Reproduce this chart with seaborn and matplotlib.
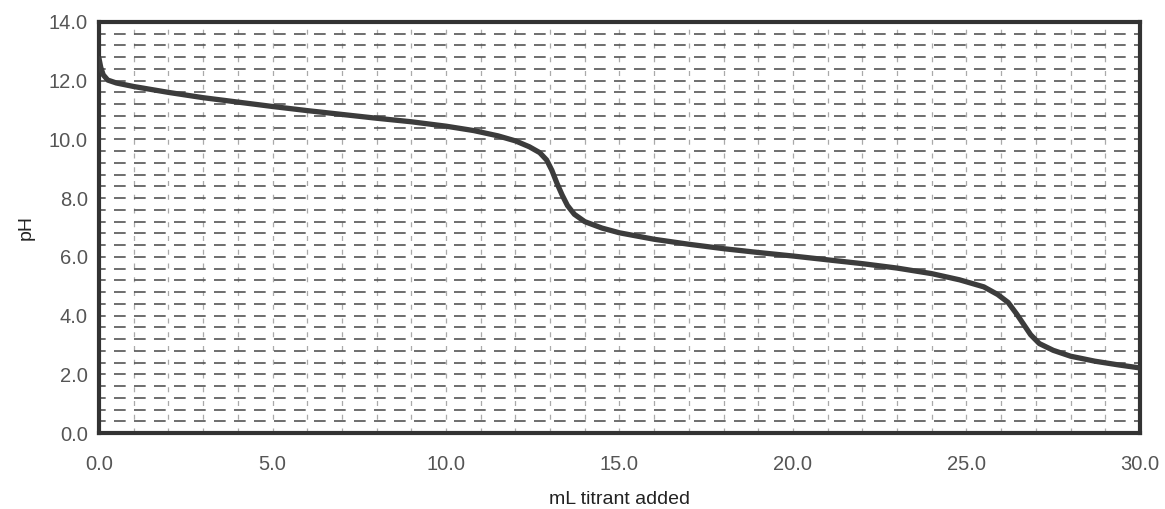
import numpy as np
import pandas as pd
import matplotlib
matplotlib.use("Agg")
import matplotlib.pyplot as plt
import seaborn as sns

# ===============================
# DATA
# ===============================
ml_added = [0.0, 0.05, 0.12, 0.25, 0.5, 1.0, 2.0, 3.0, 4.0, 5.0, 6.0, 7.0, 8.0, 9.0, 10.0,
            10.8, 11.5, 12.0, 12.4, 12.7, 12.9, 13.05, 13.2, 13.35, 13.5, 13.7, 14.0, 14.5,
            15.0, 16.0, 17.0, 18.0, 19.0, 20.0, 21.0, 22.0, 23.0, 24.0, 24.8, 25.5, 25.9,
            26.2, 26.45, 26.65, 26.85, 27.1, 27.5, 28.0, 28.7, 29.4, 30.0]
ph = [12.75, 12.45, 12.2, 12.02, 11.92, 11.8, 11.6, 11.42, 11.27, 11.12, 10.98, 10.85, 10.72, 10.6, 10.45,
      10.3, 10.12, 9.95, 9.75, 9.55, 9.3, 8.95, 8.5, 8.1, 7.75, 7.45, 7.2, 6.98,
      6.82, 6.6, 6.43, 6.28, 6.15, 6.03, 5.9, 5.77, 5.62, 5.43, 5.22, 4.98, 4.72,
      4.45, 4.05, 3.7, 3.35, 3.05, 2.82, 2.62, 2.45, 2.32, 2.22]

X_TICKS = [0, 5, 10, 15, 20, 25, 30]
Y_TICKS = [0, 2, 4, 6, 8, 10, 12, 14]

df = pd.DataFrame({"ml": ml_added, "ph": ph})

# ===============================
# STYLE
# ===============================
sns.set_style("white")
plt.rcParams["font.family"] = ["Liberation Sans", "DejaVu Sans"]

fig = plt.figure(figsize=(11.65, 5.09), dpi=100)
ax = fig.add_axes([0.085, 0.149, 0.8935, 0.808])

# dashed background grid
for xv in np.arange(1, 30, 1.0):
    ax.axvline(xv, color="#aaaaaa", lw=0.9, ls=(0, (4, 7)), zorder=1)
for yv in np.arange(0.4, 14, 0.4):
    ax.axhline(yv, color="#555555", lw=1.2, ls=(3, (7, 5)), zorder=1)

sns.lineplot(data=df, x="ml", y="ph", ax=ax, color="#3c3c3c", lw=3.8, zorder=3)

ax.set_xlim(0, 30)
ax.set_ylim(0, 14)
ax.set_xticks(X_TICKS)
ax.set_xticklabels([f"{v:.1f}" for v in X_TICKS])
ax.set_yticks(Y_TICKS)
ax.set_yticklabels([f"{v:.1f}" for v in Y_TICKS])
ax.tick_params(axis="both", labelsize=14.5, colors="#555555", length=4, width=1)
ax.tick_params(axis="x", pad=12)
ax.tick_params(axis="y", pad=4)

ax.set_xlabel("mL titrant added", fontsize=14, color="#222222", labelpad=12)
ax.set_ylabel("pH", fontsize=14, color="#222222", labelpad=10)

for side in ["top", "bottom", "left", "right"]:
    ax.spines[side].set_visible(True)
    ax.spines[side].set_color("#333333")
    ax.spines[side].set_linewidth(3)

fig.savefig("out.png", dpi=100, facecolor="white")
